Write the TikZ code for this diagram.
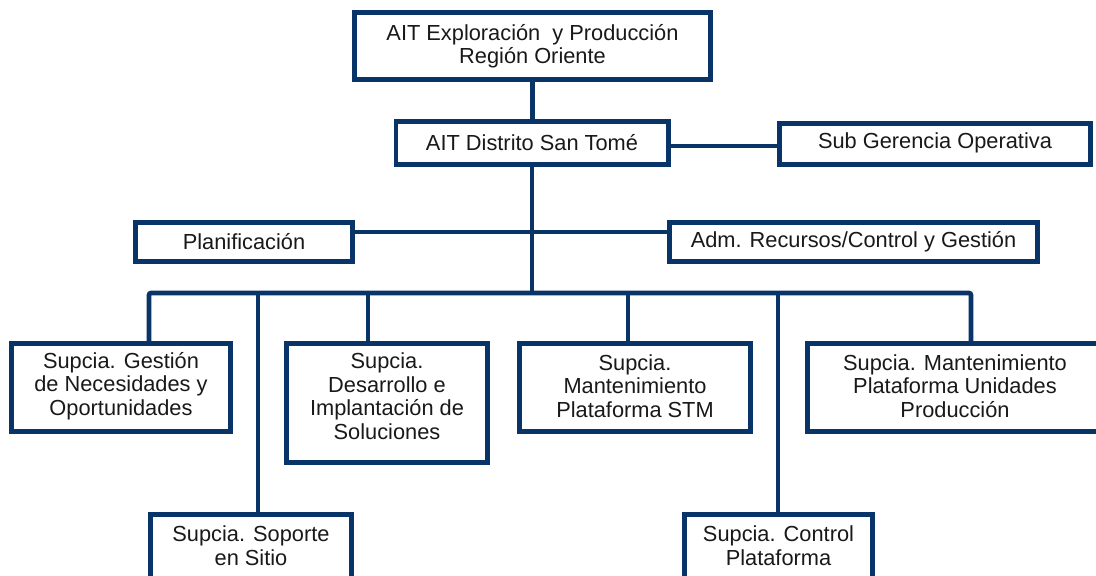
\documentclass[tikz,border=0pt]{standalone}
\usepackage{fontspec}
\setmainfont{Liberation Sans}
\definecolor{navy}{RGB}{8,52,104}
\definecolor{ink}{RGB}{25,25,25}
\begin{document}
\begin{tikzpicture}[x=1pt,y=-1pt,
  box/.style={draw=navy, line width=4.6pt, fill=white, inner sep=0pt},
  lbl/.style={inner sep=0pt, align=center, text=ink,
    font=\fontsize{21.8}{23.5}\selectfont},
  wire/.style={draw=navy, line width=4.6pt}]
\useasboundingbox (0,0) rectangle (1096,576);
\clip (0,0) rectangle (1096,576);
\fill[white] (0,0) rectangle (1096,576);

% boxes
\node[box, minimum width=356.4, minimum height=67.4] (top) at (532.5,46) {};
\node[box, minimum width=272.4, minimum height=43.4] (dist) at (532,143) {};
\node[box, minimum width=311.4, minimum height=41.4] (subg) at (935,144) {};
\node[box, minimum width=217.4, minimum height=39.4] (plan) at (244,242) {};
\node[box, minimum width=368.4, minimum height=39.4] (adm) at (853.5,242) {};
\node[box, minimum width=219.4, minimum height=88.4] (gest) at (121,387.5) {};
\node[box, minimum width=201.4, minimum height=119.4] (desa) at (387,403) {};
\node[box, minimum width=231.4, minimum height=88.4] (stm) at (635,387.5) {};
\node[box, minimum width=295.4, minimum height=88.4] (unid) at (955,387.5) {};
\node[box, minimum width=201.4, minimum height=103.4] (sopo) at (251,566) {};
\node[box, minimum width=188.4, minimum height=103.4] (ctrl) at (778.5,566) {};

% levels of the horizontal connectors
\coordinate (lvl2) at (0,146);
\coordinate (lvl3) at (0,232);
% drop points on the bus
\coordinate (d1) at (149,293);
\coordinate (d2) at (258,293);
\coordinate (d3) at (368,293);
\coordinate (d4) at (628,293);
\coordinate (d5) at (778,293);
\coordinate (d6) at (971,293);

% connectors
\draw[wire] (top.south) -- (top.south |- dist.north);
\draw[wire] (dist.south) -- (dist.south |- d1);
\draw[wire] (dist.east |- lvl2) -- (subg.west |- lvl2);
\draw[wire] (plan.east |- lvl3) -- (adm.west |- lvl3);
\draw[wire, rounded corners=2pt] (d1 |- gest.north) -- (d1) -- (d6) -- (d6 |- unid.north);
\draw[wire] (d2) -- (d2 |- sopo.north);
\draw[wire] (d3) -- (d3 |- desa.north);
\draw[wire] (d4) -- (d4 |- stm.north);
\draw[wire] (d5) -- (d5 |- ctrl.north);

% box texts
\node[lbl] (topT) at (532.5,46) {AIT Exploración\ \ y Producción\\Región Oriente};
\node[lbl] (distT) at (532,143) {AIT Distrito San Tomé};
\node[lbl] (subgT) at (935,143) {Sub Gerencia Operativa};
\node[lbl] (planT) at (244,242) {Planificación};
\node[lbl] (admT) at (853.5,242) {Adm. Recursos/Control y Gestión};
\node[lbl] (gestT) at (121,386) {Supcia. Gestión\\de Necesidades y\\Oportunidades};
\node[lbl] (desaT) at (387,396) {Supcia.\\Desarrollo e\\Implantación de\\Soluciones};
\node[lbl] (stmT) at (635,386) {Supcia.\\Mantenimiento\\Plataforma STM};
\node[lbl] (unidT) at (955,386) {Supcia. Mantenimiento\\Plataforma Unidades\\Producción};
\node[lbl] (sopoT) at (251,545.5) {Supcia. Soporte\\en Sitio};
\node[lbl] (ctrlT) at (778.5,545.5) {Supcia. Control\\Plataforma};
\end{tikzpicture}
\end{document}
